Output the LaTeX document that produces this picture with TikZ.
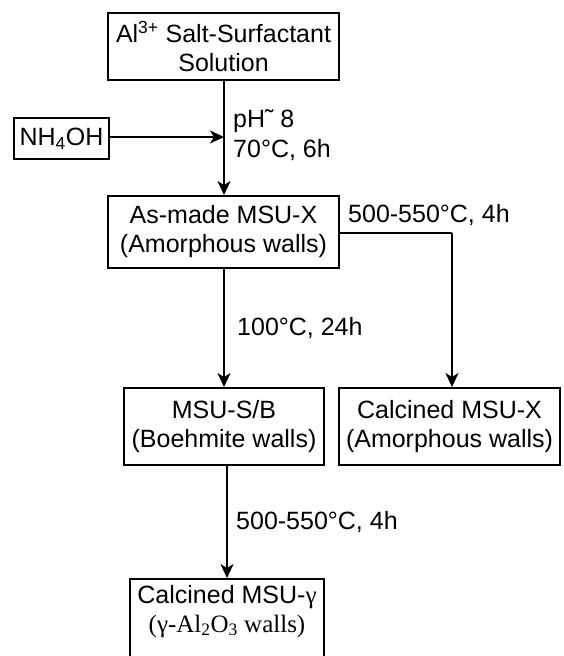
\documentclass[tikz,border=0pt]{standalone}
\usepackage{fontspec}
\setmainfont{Liberation Serif}
\setsansfont{Liberation Sans}
\usetikzlibrary{arrows.meta}
\begin{document}
\begin{tikzpicture}[x=1pt,y=-1pt,
  every node/.style={font=\sffamily\fontsize{25}{29}\selectfont},
  box/.style={draw,line width=1.9pt,align=center,inner sep=0pt},
  lbl/.style={anchor=base west,inner sep=0pt},
  conn/.style={line width=1.9pt,-{Stealth[length=14pt,width=13pt,inset=4pt]}}]
\useasboundingbox (0,0) rectangle (563,656);
\node[box,minimum width=231pt,minimum height=67pt] (sol) at (223.5,46.5) {Al\textsuperscript{3+} Salt-Surfactant\\Solution};
\node[box,minimum width=95pt,minimum height=41pt] (nh) at (61.5,138.5) {NH\textsubscript{4}OH};
\node[box,minimum width=231pt,minimum height=72pt] (asm) at (223.5,232) {As-made MSU-X\\(Amorphous walls)};
\node[box,minimum width=200pt,minimum height=77pt] (sb) at (224,426.5) {MSU-S/B\\(Boehmite walls)};
\node[box,minimum width=221pt,minimum height=77pt] (cx) at (449.5,426.5) {Calcined MSU-X\\(Amorphous walls)};
\node[box,minimum width=194pt,minimum height=92pt] (cg) at (227,625) {Calcined MSU-{\rmfamily γ}\\{\rmfamily (γ-Al\textsubscript{2}O\textsubscript{3} walls)}\\[4pt]};
\coordinate (mix) at (224,137);
\coordinate (turn) at (452,233);
\draw[conn] (sol.south -| mix) -- (asm.north -| mix);
\draw[conn] (nh.east |- mix) -- (mix);
\draw[line width=1.9pt] (asm.east |- turn) -- (turn);
\draw[conn] (turn) -- (cx.north -| turn);
\draw[conn] (asm.south -| mix) -- (sb.north -| mix);
\coordinate (low) at (227,500);
\draw[conn] (sb.south -| low) -- (cg.north -| low);
\node[lbl] (l1) at (233,127) {pH˜ 8};
\node[lbl] (l2) at (233,157) {70°C, 6h};
\node[lbl] (l3) at (348,222) {500-550°C, 4h};
\node[lbl] (l4) at (237,335) {100°C, 24h};
\node[lbl] (l5) at (236,529) {500-550°C, 4h};
\end{tikzpicture}
\end{document}
